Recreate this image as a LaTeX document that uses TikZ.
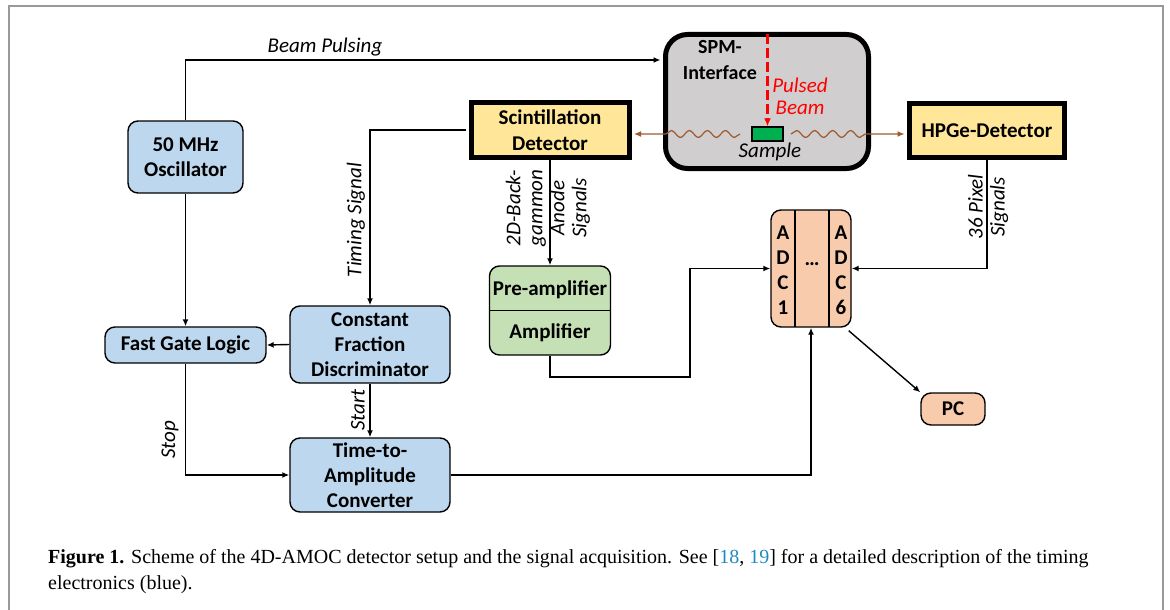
\documentclass[tikz,border=0pt]{standalone}
\usepackage{fontspec}
\setmainfont{Carlito}
\newfontfamily\capfont{Liberation Serif}
\usetikzlibrary{arrows.meta,decorations.pathmorphing}
\definecolor{cblue}{HTML}{BDD7EE}
\definecolor{cyellow}{HTML}{FFE699}
\definecolor{cgreen}{HTML}{C5E0B4}
\definecolor{cpeach}{HTML}{F8CBAD}
\definecolor{cgray}{HTML}{D0CECE}
\definecolor{cbrown}{HTML}{9C5A2E}
\definecolor{csample}{HTML}{00B050}
\definecolor{cframe}{HTML}{999999}
\definecolor{ccite}{HTML}{1F8AC0}
\begin{document}
\begin{tikzpicture}[x=1pt,y=-1pt,
  box/.style={draw=black, line width=1.4pt, rounded corners=10pt, inner sep=0pt, align=center,
    font=\fontsize{21}{25}\bfseries\selectfont},
  detbox/.style={draw=black, line width=5pt, fill=cyellow, inner sep=0pt, align=center,
    font=\fontsize{21}{26}\bfseries\selectfont},
  txt/.style={inner sep=0pt, align=center, font=\fontsize{21}{25}\bfseries\selectfont},
  lbl/.style={inner sep=0pt, align=center, font=\fontsize{21}{22}\itshape\selectfont},
  arr/.style={line width=1.4pt, -{Latex[length=7pt,width=6pt]}},
  wavy/.style={draw=cbrown, line width=1.2pt, -{Latex[length=7pt,width=6pt]},
    decoration={snake, amplitude=3.5pt, segment length=18pt}},
]
\useasboundingbox (0,0) rectangle (1170,610);
% frame
\draw[cframe, line width=2pt] (9,610) -- (9,6) -- (1163,6) -- (1163,610);

% nodes
\node[box, fill=cblue, minimum width=115pt, minimum height=72pt] (osc) at (185.5,157) {50 MHz\\Oscillator};
\node[draw=black, line width=5pt, rounded corners=22pt, fill=cgray, minimum width=203pt, minimum height=134pt] (spm) at (767,101.5) {};
\node[txt, font=\fontsize{20}{26}\bfseries\selectfont] (spmt) at (720,60) {SPM-\\Interface};
\node[detbox, minimum width=158pt, minimum height=55pt] (scint) at (550,130) {Scintillation\\Detector};
\node[detbox, minimum width=155pt, minimum height=54pt] (hpge) at (987,130.5) {HPGe-Detector};
\node[draw=black, line width=1.4pt, fill=csample, minimum width=31pt, minimum height=14pt, inner sep=0pt] (sample) at (767.5,134) {};
\node[lbl, text=black] (samplet) at (770,152) {Sample};
\node[lbl, text=red] (pulsed) at (800,96) {Pulsed\\Beam};

\node[box, fill=cgreen, minimum width=121pt, minimum height=89pt] (amp) at (550,310.5) {};
\draw[line width=1.4pt] (amp.west) -- (amp.east);
\node[txt] (pret) at (550,290) {Pre-amplifier};
\node[txt] (ampt) at (550,333) {Amplifier};

\node[box, fill=cpeach, minimum width=80pt, minimum height=117pt] (adc) at (811,268.5) {};
\draw[line width=1.4pt] (795,210) -- (795,327) (829,210) -- (829,327);
\node[txt] (adc1) at (783,270) {A\\D\\C\\1};
\node[txt] (adcd) at (812,264) {…};
\node[txt] (adc6) at (841,270) {A\\D\\C\\6};

\node[box, fill=cblue, minimum width=161pt, minimum height=36pt] (fgl) at (185.5,345) {Fast Gate Logic};
\node[box, fill=cblue, minimum width=160pt, minimum height=77pt] (cfd) at (370,344.5) {Constant\\Fraction\\Discriminator};
\node[box, fill=cblue, minimum width=160pt, minimum height=74pt] (tac) at (370,475) {Time-to-\\Amplitude\\Converter};
\node[box, fill=cpeach, minimum width=64pt, minimum height=32pt] (pc) at (953,409) {PC};

% coordinates
\coordinate (bp) at (0,60);
\coordinate (ampturn) at (690,377);
\coordinate (wl) at (740,134);
\coordinate (wr) at (791,134);

% connectors
\draw[arr] (osc.north) |- ([xshift=-2.5pt]spm.west |- bp);
\node[lbl] (beamlbl) at (325,47) {Beam Pulsing};
\draw[red, line width=2.2pt, dash pattern=on 10pt off 4pt, -{Latex[length=8pt,width=7pt]}] ([yshift=-2pt]spm.north -| sample.north) -- (sample.north);
\draw[wavy] (wl) decorate {-- ([xshift=-2pt]spm.west |- wl)} -- ([xshift=2.5pt]scint.east |- wl);
\draw[wavy] (wr) decorate {-- ([xshift=2pt]spm.east |- wr)} -- ([xshift=-2.5pt]hpge.west |- wr);

\draw[arr] ([xshift=-2.5pt]scint.west) -| (cfd.north);
\node[lbl, rotate=90] (timlbl) at (356,220) {Timing Signal};
\draw[arr] ([yshift=2.5pt]scint.south) -- (amp.north);
\node[lbl, rotate=90] (anlbl) at (548,208) {2D-Back-\\gammon\\Anode\\Signals};
\draw[arr] (amp.south) |- (ampturn) |- (adc.west);
\draw[arr] ([yshift=2.5pt]hpge.south) |- (adc.east);
\node[lbl, rotate=90] (pixlbl) at (988,207) {36 Pixel\\Signals};

\draw[arr] (osc.south) -- (fgl.north);
\draw[arr] (cfd.west) -- (fgl.east);
\draw[arr] (cfd.south) -- (tac.north);
\node[lbl, rotate=90] (startlbl) at (358,410) {Start};
\draw[arr] (fgl.south) |- (tac.west);
\node[lbl, rotate=90] (stoplbl) at (170,440) {Stop};
\draw[arr] (tac.east) -| (adc.south);
\draw[arr] ([shift={(-3pt,-3pt)}]adc.south east) -- (pc.north west);

% caption
\node[anchor=base west, inner sep=0pt, font=\capfont\fontsize{20}{25}\selectfont] (cap1) at (48,563)
  {\textbf{Figure 1.} Scheme of the 4D-AMOC detector setup and the signal acquisition. See [\textcolor{ccite}{18}, \textcolor{ccite}{19}] for a detailed description of the timing};
\node[anchor=base west, inner sep=0pt, font=\capfont\fontsize{20}{25}\selectfont] (cap2) at (48,589)
  {electronics (blue).};
\end{tikzpicture}
\end{document}
